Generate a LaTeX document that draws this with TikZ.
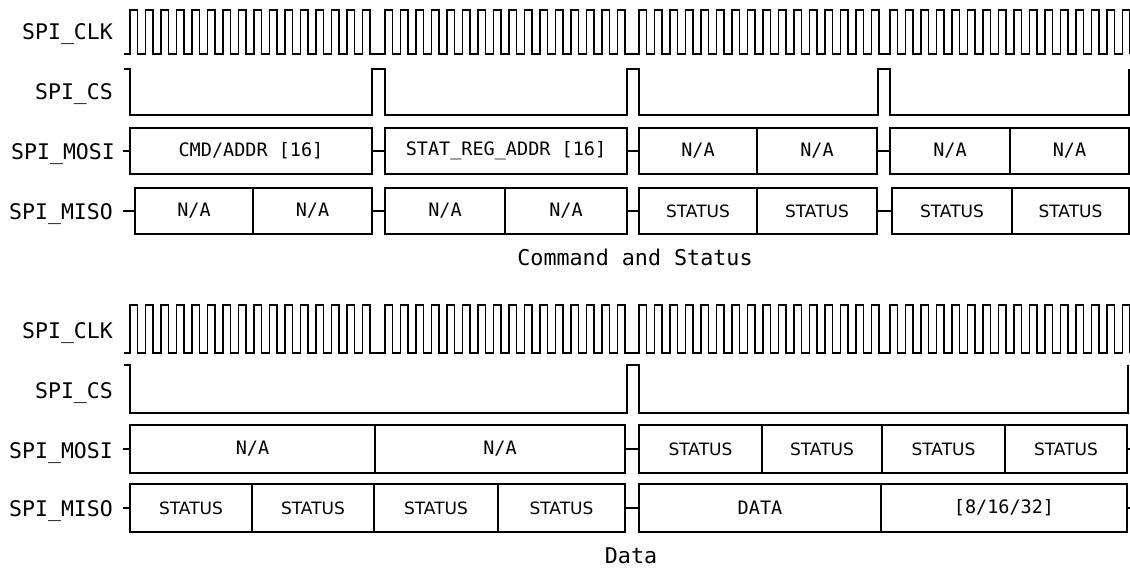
\documentclass[tikz,border=0pt]{standalone}
\usepackage{fontspec}
\newfontfamily\monof{DejaVu Sans Mono}
\newfontfamily\sansf{DejaVu Sans}
\tikzset{
  wave/.style={line width=1.7pt, line join=miter},
  link/.style={line width=1.7pt},
  seg/.style={draw, line width=1.7pt, inner sep=0pt, font=\monof\fontsize{18.5}{18.5}\selectfont},
  stat/.style={font=\sansf\fontsize{17}{17}\selectfont},
  sig/.style={anchor=base east, inner sep=0pt, font=\monof\fontsize{21.5}{21.5}\selectfont},
  captext/.style={anchor=base, inner sep=0pt, font=\monof\fontsize{21.7}{21.7}\selectfont}
}
\newcommand\seg[5]{\node[seg,#5,minimum width={(#3-#2)*1pt},minimum height={(\yb-\ya)*1pt}] (#1) at ({(#2+#3)/2},{(\ya+\yb)/2}) {#4};}
\begin{document}
\begin{tikzpicture}[x=1pt,y=-1pt]
\useasboundingbox (0,0) rectangle (1130,569);
% ---------------- Command and Status ----------------
\node[sig] (lclk1) at (113,40) {SPI\_CLK};
\node[sig] (lcs1) at (113,100) {SPI\_CS};
\node[sig] (lmosi1) at (115,160) {SPI\_MOSI};
\node[sig] (lmiso1) at (113,220) {SPI\_MISO};
\draw[wave] (124,54) \foreach \r in {130,385,639,890}{ \foreach \i in {0,...,15}{ -- ({\r+15.5*\i},54) -- ({\r+15.5*\i},10) -- ({\r+15.5*\i+7.6},10) -- ({\r+15.5*\i+7.6},54) } };
\draw[wave] (124,69) -- (130,69) -- (130,115) -- (372,115) -- (372,69) -- (385,69) -- (385,115) -- (627,115) -- (627,69) -- (639,69) -- (639,115) -- (878,115) -- (878,69) -- (890,69) -- (890,115) -- (1129,115) -- (1129,69);
\def\ya{128}\def\yb{174}
\seg{m1}{130}{372}{CMD/ADDR [16]}{}
\seg{m2}{385}{627}{STAT\_REG\_ADDR [16]}{}
\seg{m3}{639}{757}{N/A}{}
\seg{m4}{757}{877}{N/A}{}
\seg{m5}{890}{1010}{N/A}{}
\seg{m6}{1010}{1129}{N/A}{}
\coordinate (tm1) at (123,151);
\draw[link] (tm1) -- (m1.west);
\draw[link] (m1.east) -- (m2.west);
\draw[link] (m2.east) -- (m3.west);
\draw[link] (m4.east) -- (m5.west);
\def\ya{188}\def\yb{234}
\seg{s1}{135}{253}{N/A}{}
\seg{s2}{253}{372}{N/A}{}
\seg{s3}{385}{505}{N/A}{}
\seg{s4}{505}{627}{N/A}{}
\seg{s5}{639}{757}{STATUS}{stat}
\seg{s6}{757}{877}{STATUS}{stat}
\seg{s7}{892}{1012}{STATUS}{stat}
\seg{s8}{1012}{1129}{STATUS}{stat}
\coordinate (ts1) at (123,211);
\draw[link] (ts1) -- (s1.west);
\draw[link] (s2.east) -- (s3.west);
\draw[link] (s4.east) -- (s5.west);
\draw[link] (s6.east) -- (s7.west);
\node[captext] (cap1) at (635,266) {Command and Status};
% ---------------- Data ----------------
\node[sig] (lclk2) at (113,338) {SPI\_CLK};
\node[sig] (lcs2) at (113,398) {SPI\_CS};
\node[sig] (lmosi2) at (113,458) {SPI\_MOSI};
\node[sig] (lmiso2) at (113,516) {SPI\_MISO};
\draw[wave] (124,353) \foreach \r in {130,385,639,890}{ \foreach \i in {0,...,15}{ -- ({\r+15.5*\i},353) -- ({\r+15.5*\i},305) -- ({\r+15.5*\i+7.6},305) -- ({\r+15.5*\i+7.6},353) } };
\draw[wave] (124,365) -- (130,365) -- (130,413) -- (627,413) -- (627,365) -- (639,365) -- (639,413) -- (1128,413) -- (1128,365);
\def\ya{425}\def\yb{473}
\seg{b1}{130}{375}{N/A}{}
\seg{b2}{375}{625}{N/A}{}
\seg{b3}{639}{762}{STATUS}{stat}
\seg{b4}{762}{882}{STATUS}{stat}
\seg{b5}{882}{1005}{STATUS}{stat}
\seg{b6}{1005}{1127}{STATUS}{stat}
\coordinate (tb1) at (123,449);
\coordinate (tb6) at (1130,449);
\draw[link] (tb1) -- (b1.west);
\draw[link] (b2.east) -- (b3.west);
\draw[link] (b6.east) -- (tb6);
\def\ya{484}\def\yb{532}
\seg{c1}{130}{252}{STATUS}{stat}
\seg{c2}{252}{374}{STATUS}{stat}
\seg{c3}{374}{498}{STATUS}{stat}
\seg{c4}{498}{625}{STATUS}{stat}
\seg{c5}{639}{881}{DATA}{}
\seg{c6}{881}{1127}{[8/16/32]}{}
\coordinate (tc1) at (123,508);
\coordinate (tc6) at (1130,508);
\draw[link] (tc1) -- (c1.west);
\draw[link] (c4.east) -- (c5.west);
\draw[link] (c6.east) -- (tc6);
\node[captext] (cap2) at (631,563) {Data};
\end{tikzpicture}
\end{document}
